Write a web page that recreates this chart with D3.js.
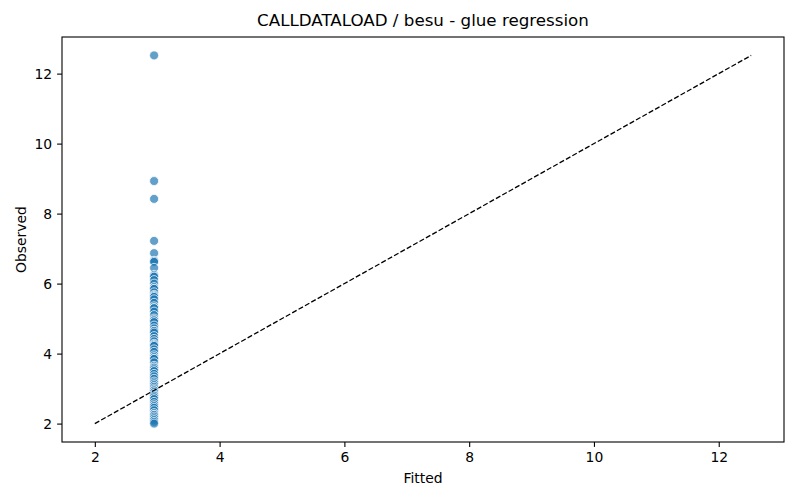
<!DOCTYPE html>
<html>
<head>
<meta charset="utf-8">
<script src="https://cdn.jsdelivr.net/npm/d3@7"></script>
<style>
  body { margin: 0; background: #fff; }
  text { font-family: "DejaVu Sans", sans-serif; fill: #000; }
</style>
</head>
<body>
<div class="chart"></div>
<script>
// Observed values (one per glue sample), fitted value is the same for all
var observed = [12.52, 8.93, 8.42, 7.22, 6.87, 6.65, 6.65, 6.62, 6.45, 6.25, 6.2, 6.2, 6.1, 6.0,
  5.9, 5.85, 5.85, 5.75, 5.68, 5.65, 5.62, 5.55, 5.45, 5.35, 5.3, 5.3, 5.2, 5.1, 5.0, 4.95, 4.95,
  4.9, 4.8, 4.72, 4.65, 4.65, 4.6, 4.5, 4.42, 4.35, 4.28, 4.25, 4.22, 4.12, 4.05, 3.95, 3.9, 3.85,
  3.85, 3.75, 3.65, 3.6, 3.6, 3.55, 3.5, 3.42, 3.35, 3.28, 3.2, 3.15, 3.1, 3.05, 3.0, 2.95, 2.95,
  2.9, 2.85, 2.8, 2.8, 2.75, 2.7, 2.62, 2.55, 2.5, 2.45, 2.38, 2.3, 2.25, 2.25, 2.2, 2.15, 2.1,
  2.05, 2.0];
var fittedValue = 2.95;
var xTicks = [2, 4, 6, 8, 10, 12];
var yTicks = [2, 4, 6, 8, 10, 12];

function init() {
  var w = 800, h = 500;
  var margin = { left: 62, right: 16, top: 37, bottom: 58 };

  var data = observed.map(function (v) { return { fitted: fittedValue, observed: v }; });

  // identity line spans the min and max of both columns
  var lo = Math.min(d3.min(observed), fittedValue);
  var hi = Math.max(d3.max(observed), fittedValue);
  var pad = (hi - lo) * 0.05;

  var xScale = d3.scaleLinear()
    .domain([lo - pad, hi + pad])
    .range([margin.left, w - margin.right]);
  var yScale = d3.scaleLinear()
    .domain([lo - pad, hi + pad])
    .range([h - margin.bottom, margin.top]);

  var svg = d3.select(".chart").append("svg")
    .attr("width", w)
    .attr("height", h);

  // Points
  svg.append("g").selectAll("circle")
    .data(data)
    .enter()
    .append("circle")
    .attr("cx", function (d) { return xScale(d.fitted); })
    .attr("cy", function (d) { return yScale(d.observed); })
    .attr("r", 4.5)
    .attr("fill", "#1f77b4")
    .attr("fill-opacity", 0.7)
    .attr("stroke", "#fff")
    .attr("stroke-width", 0.75);

  // Dashed y = x line
  svg.append("line")
    .attr("x1", xScale(lo))
    .attr("y1", yScale(lo))
    .attr("x2", xScale(hi))
    .attr("y2", yScale(hi))
    .attr("stroke", "#000")
    .attr("stroke-width", 1.3)
    .attr("stroke-dasharray", "5.1,2.2");

  // Axes
  var xAxis = d3.axisBottom(xScale).tickValues(xTicks).tickSize(4.9).tickPadding(4.9).tickFormat(d3.format("d"));
  var yAxis = d3.axisLeft(yScale).tickValues(yTicks).tickSize(4.9).tickPadding(4.9).tickFormat(d3.format("d"));

  svg.append("g")
    .attr("transform", "translate(0," + (h - margin.bottom) + ")")
    .call(xAxis)
    .call(function (g) { g.select(".domain").remove(); })
    .selectAll("text").style("font-size", "13.9px").style("font-family", "DejaVu Sans");
  svg.append("g")
    .attr("transform", "translate(" + margin.left + ",0)")
    .call(yAxis)
    .call(function (g) { g.select(".domain").remove(); })
    .selectAll("text").style("font-size", "13.9px").style("font-family", "DejaVu Sans");

  svg.selectAll(".tick line").attr("stroke-width", 1.1);

  // Frame
  svg.append("rect")
    .attr("x", margin.left)
    .attr("y", margin.top)
    .attr("width", w - margin.left - margin.right)
    .attr("height", h - margin.top - margin.bottom)
    .attr("fill", "none")
    .attr("stroke", "#000")
    .attr("stroke-width", 1.1);

  // Title and labels
  svg.append("text")
    .attr("x", (margin.left + w - margin.right) / 2)
    .attr("y", 26)
    .attr("text-anchor", "middle")
    .style("font-size", "16.7px")
    .text("CALLDATALOAD / besu - glue regression");
  svg.append("text")
    .attr("x", (margin.left + w - margin.right) / 2)
    .attr("y", 483)
    .attr("text-anchor", "middle")
    .style("font-size", "13.9px")
    .text("Fitted");
  svg.append("text")
    .attr("transform", "rotate(-90)")
    .attr("x", -(margin.top + h - margin.bottom) / 2)
    .attr("y", 26)
    .attr("text-anchor", "middle")
    .style("font-size", "13.9px")
    .text("Observed");
}
window.onload = init;
</script>
</body>
</html>
